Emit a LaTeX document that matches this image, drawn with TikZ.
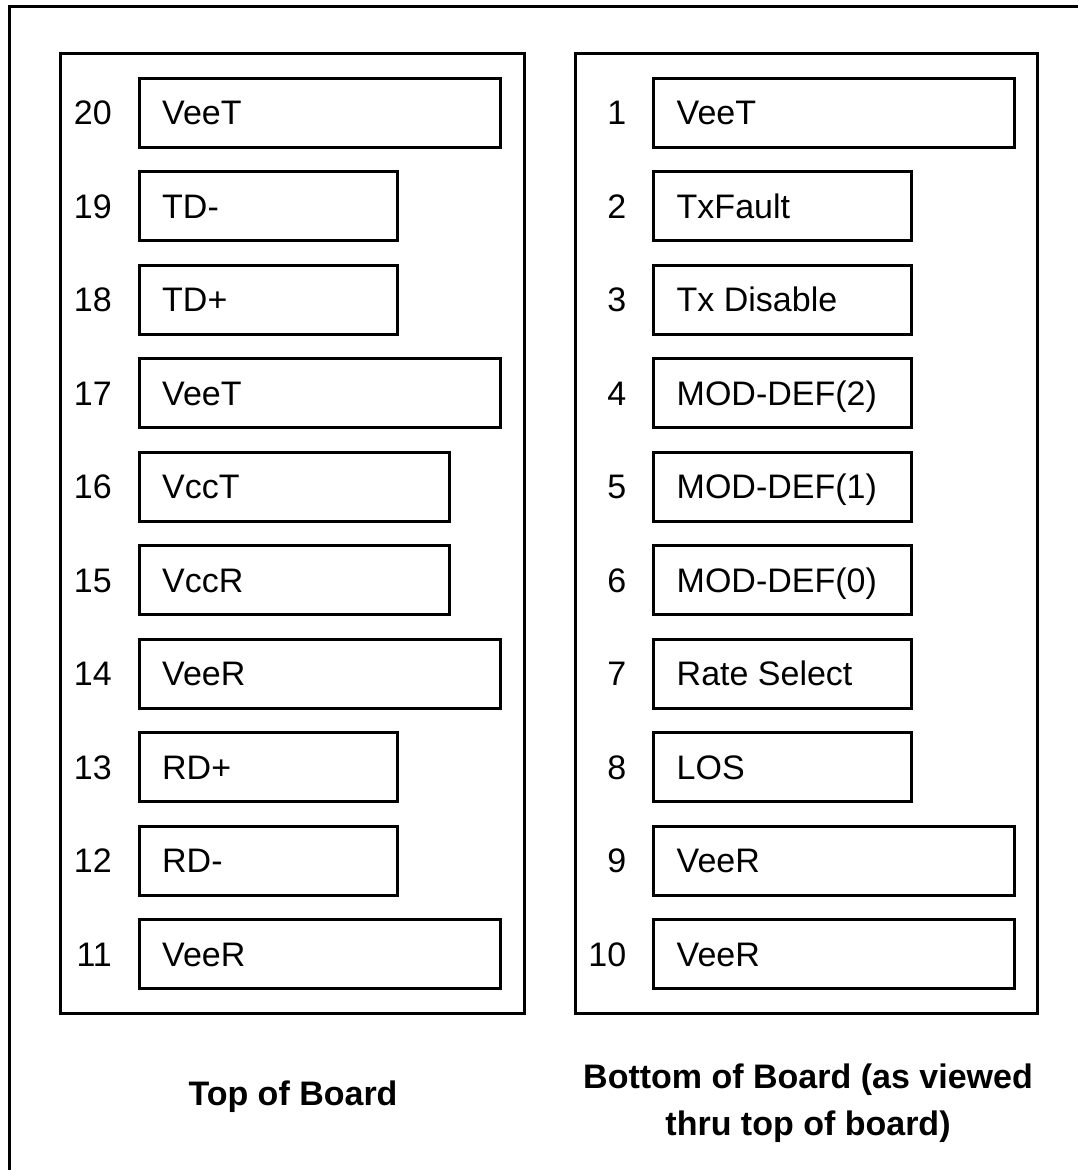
\documentclass[tikz,border=0pt]{standalone}
\usepackage{fontspec}
\setmainfont{Liberation Sans}
\begin{document}
\begin{tikzpicture}[x=1pt,y=-1pt,
  frame/.style={line width=3pt,line cap=rect},
  panel/.style={draw,line width=3pt,rectangle,inner sep=0pt,outer sep=0pt,anchor=north west},
  pinbox/.style={draw,line width=3pt,rectangle,inner sep=0pt,outer sep=0pt,anchor=north west,minimum height=69pt},
  pintext/.style={font=\fontsize{34}{40}\selectfont,inner sep=0pt,text height=24.3pt,text depth=0pt},
  pinlabel/.style={pintext,anchor=west},
  pinnum/.style={pintext,anchor=east},
  caption/.style={font=\fontsize{34}{47}\selectfont\bfseries,inner sep=0pt}]
\useasboundingbox (0,0) rectangle (1078,1170);
% outer frame (open at right and bottom)
\draw[frame] (9,1175) -- (9,6) -- (1083,6);
% panels
\node[panel,minimum width=464pt,minimum height=959.5pt] (toppanel) at (60.5,53.5) {};
\node[panel,minimum width=462pt,minimum height=959.5pt] (botpanel) at (575.5,53.5) {};
% left column pins
\foreach \i/\n/\t/\w in {0/20/VeeT/361, 1/19/TD-/258, 2/18/TD+/258, 3/17/VeeT/361, 4/16/VccT/310, 5/15/VccR/310, 6/14/VeeR/361, 7/13/RD+/258, 8/12/RD-/258, 9/11/VeeR/361}
{
  \node[pinbox,minimum width=\w pt] (p\n) at (139,{78+93.5*\i}) {};
  \node[pinnum] (n\n) at ([xshift=-27pt]p\n.west) {\n};
  \node[pinlabel] (t\n) at ([xshift=23pt]p\n.west) {\t};
}
% right column pins
\foreach \i/\n/\t/\w in {0/1/VeeT/361, 1/2/TxFault/258, 2/3/Tx Disable/258, 3/4/MOD-DEF(2)/258, 4/5/MOD-DEF(1)/258, 5/6/MOD-DEF(0)/258, 6/7/Rate Select/258, 7/8/LOS/258, 8/9/VeeR/361, 9/10/VeeR/361}
{
  \node[pinbox,minimum width=\w pt] (p\n) at (653.5,{78+93.5*\i}) {};
  \node[pinnum] (n\n) at ([xshift=-27pt]p\n.west) {\n};
  \node[pinlabel] (t\n) at ([xshift=23pt]p\n.west) {\t};
}
% captions
\node[caption,anchor=base] (topcap) at (293,1105) {Top of Board};
\node[caption,align=center,anchor=north] (botcap) at (808,1064) {Bottom of Board (as viewed\\thru top of board)};
\end{tikzpicture}
\end{document}
